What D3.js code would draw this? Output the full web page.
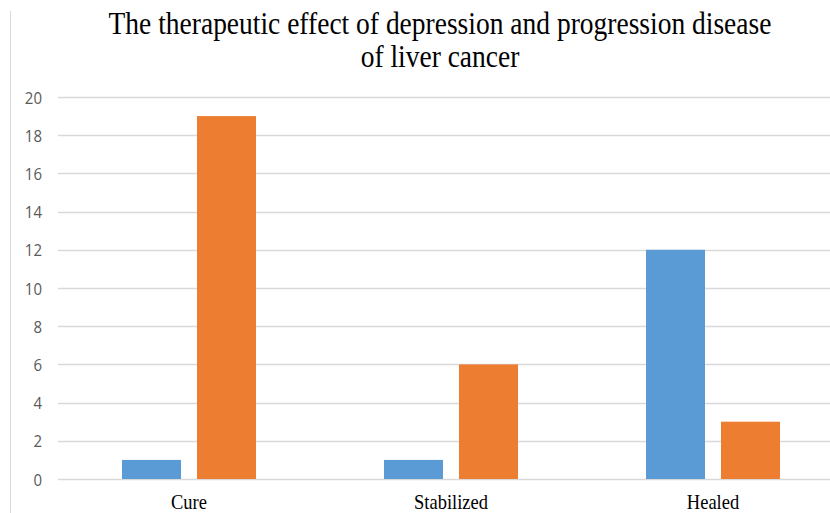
<!DOCTYPE html>
<html><head><meta charset="utf-8">
<script src="https://cdn.jsdelivr.net/npm/d3@7/dist/d3.min.js"></script>
<style>body{margin:0;background:#fff;}svg{display:block;}</style>
</head><body>
<svg id="chart" width="830" height="513"></svg>
<script>
const categories = ["Cure", "Stabilized", "Healed"];
const seriesNames = ["Series1", "Series2"];
const series1 = [1, 1, 12];
const series2 = [19, 6, 3];
const yTicks = [0, 2, 4, 6, 8, 10, 12, 14, 16, 18, 20];
const titleLines = ["The therapeutic effect of depression and progression disease", "of liver cancer"];
const colors = ["#5B9BD5", "#ED7D31"];

(function () {
const svg = d3.select("#chart");
const W = 830, H = 513;
const plotLeft = 58, plotRight = 844, plotTop = 97, plotBottom = 479;
const stretch = "scale(1,1.12)";
const serif = "'Liberation Serif', 'Times New Roman', serif";

// left border line
svg.append("line").attr("x1", 10.5).attr("x2", 10.5).attr("y1", 11).attr("y2", H)
  .attr("stroke", "#d9d9d9").attr("stroke-width", 1);

const x0 = d3.scaleBand().domain(categories).range([plotLeft, plotRight]);
const inner = 134;
const x1 = d3.scaleBand().domain(seriesNames)
  .range([(x0.bandwidth() - inner) / 2, (x0.bandwidth() + inner) / 2])
  .paddingInner(16 / 75);
const y = d3.scaleLinear().domain([0, 20]).range([plotBottom, plotTop]);

// gridlines
svg.append("g").selectAll("line").data(yTicks).join("line")
  .attr("x1", plotLeft).attr("x2", W)
  .attr("y1", d => Math.round(y(d)) + 0.5).attr("y2", d => Math.round(y(d)) + 0.5)
  .attr("stroke", "#d9d9d9").attr("stroke-width", 1.3);

// y tick labels
const yAxis = d3.axisLeft(y).tickValues(yTicks).tickSize(0).tickPadding(0);
const gy = svg.append("g").attr("transform", `translate(42,0)`).call(yAxis);
gy.select(".domain").remove();
gy.selectAll("text").attr("font-family", "'Open Sans', 'Liberation Sans', sans-serif")
  .attr("font-size", 15).attr("fill", "#595959").attr("dy", "0.36em").attr("transform", stretch);

// bars
const data = categories.map((c, i) => ({cat: c, vals: [series1[i], series2[i]]}));
const groups = svg.append("g").selectAll("g").data(data).join("g")
  .attr("transform", d => `translate(${x0(d.cat)},0)`);
groups.selectAll("rect").data(d => d.vals.map((v, j) => ({s: seriesNames[j], v, j}))).join("rect")
  .attr("x", d => x1(d.s)).attr("width", x1.bandwidth())
  .attr("y", d => y(d.v)).attr("height", d => y(0) - y(d.v))
  .attr("fill", d => colors[d.j]);

// x axis labels
const xAxis = d3.axisBottom(x0).tickSize(0).tickPadding(0);
const gx = svg.append("g").attr("transform", `translate(0,509)`).call(xAxis);
gx.select(".domain").remove();
gx.selectAll("text").attr("font-family", serif).attr("y", 0).attr("dy", 0)
  .attr("font-size", 18.5).attr("fill", "#000").attr("transform", stretch);

// title
const lineW = [661, null];
svg.append("g").selectAll("text").data(titleLines).join("text")
  .attr("transform", (d, i) => `translate(440,${34 + i * 33}) ${stretch}`)
  .attr("text-anchor", "middle")
  .attr("font-family", serif)
  .attr("font-size", 27.5).attr("fill", "#000")
  .text(d => d);
})();
</script>
</body></html>
